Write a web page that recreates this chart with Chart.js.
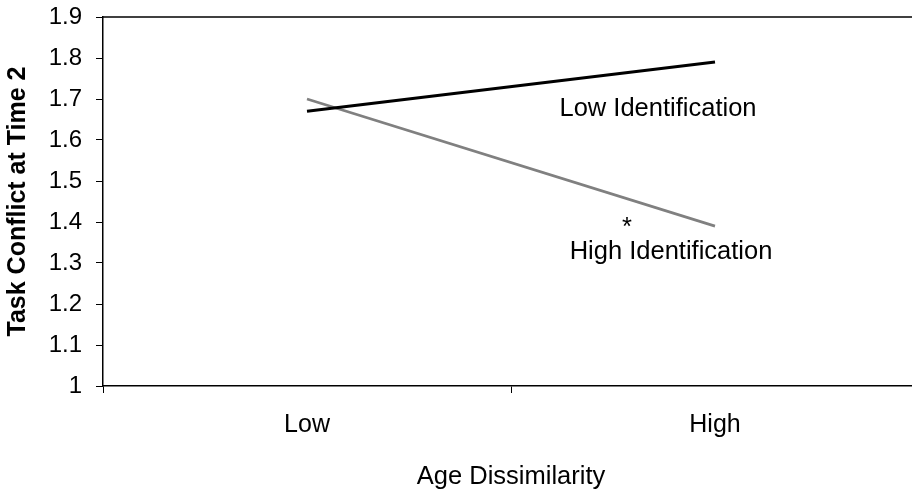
<!DOCTYPE html>
<html>
<head>
<meta charset="utf-8">
<script src="https://cdn.jsdelivr.net/npm/chart.js@4/dist/chart.umd.min.js"></script>
<style>
  html, body { margin: 0; padding: 0; background: #fff; overflow: hidden; }
  #wrap { position: relative; width: 930px; height: 496px; }
</style>
</head>
<body>
<div id="wrap"><canvas id="chart" width="930" height="496"></canvas></div>
<script>
// Age dissimilarity categories and the two identification slopes
const categories = ['Low', 'High'];
const lowIdentification = [1.67, 1.79];
const highIdentification = [1.70, 1.39];
const yMin = 1.0;
const yMax = 1.9;
const yStep = 0.1;

const FONT = '"Liberation Sans", Arial, Helvetica, sans-serif';

// Text labels placed next to the lines
const annotations = {
  id: 'lineNotes',
  afterDatasetsDraw(chart) {
    const { ctx, scales: { x, y } } = chart;
    const xHigh = x.getPixelForValue(1);
    ctx.save();
    ctx.fillStyle = '#000';
    ctx.font = '25.5px ' + FONT;
    ctx.textAlign = 'center';
    ctx.textBaseline = 'alphabetic';
    ctx.fillText('Low Identification', xHigh - 57, y.getPixelForValue(1.67) + 4.5);
    ctx.fillText('*', xHigh - 88, y.getPixelForValue(1.37) + 0.5);
    ctx.fillText('High Identification', xHigh - 44, y.getPixelForValue(1.31) + 0.5);
    ctx.restore();
  }
};

// Frame line along the top of the plot area
const topFrame = {
  id: 'topFrame',
  afterDraw(chart) {
    const { ctx, chartArea } = chart;
    ctx.save();
    ctx.strokeStyle = '#000';
    ctx.lineWidth = 1.5;
    ctx.beginPath();
    ctx.moveTo(chartArea.left, chartArea.top);
    ctx.lineTo(chartArea.right, chartArea.top);
    ctx.stroke();
    ctx.restore();
  }
};

new Chart(document.getElementById('chart'), {
  type: 'line',
  data: {
    labels: categories,
    datasets: [
      {
        label: 'Low Identification',
        data: lowIdentification,
        borderColor: '#000000',
        borderWidth: 3,
        pointRadius: 0,
        tension: 0,
        fill: false
      },
      {
        label: 'High Identification',
        data: highIdentification,
        borderColor: '#808080',
        borderWidth: 2.7,
        pointRadius: 0,
        tension: 0,
        fill: false
      }
    ]
  },
  options: {
    responsive: false,
    animation: false,
    events: [],
    layout: { padding: { top: 17, right: 11, left: 0, bottom: 0 } },
    plugins: {
      legend: { display: false },
      tooltip: { enabled: false }
    },
    scales: {
      x: {
        type: 'category',
        offset: true,
        afterFit(scale) {
          scale.height = 110;
          scale.paddingLeft = 0;
          scale.paddingRight = 0;
        },
        grid: {
          offset: true,
          drawOnChartArea: false,
          drawTicks: true,
          tickLength: 7,
          color: '#000',
          lineWidth: 1
        },
        border: { display: true, color: '#000', width: 1.5 },
        ticks: {
          color: '#000',
          font: { family: FONT, size: 25 },
          padding: 17,
          maxRotation: 0
        },
        title: {
          display: true,
          text: 'Age Dissimilarity',
          color: '#000',
          font: { family: FONT, size: 25.5 },
          padding: { top: 0, bottom: 4 }
        }
      },
      y: {
        min: yMin,
        max: yMax,
        afterFit(scale) {
          scale.width = 103;
          scale.paddingTop = 0;
          scale.paddingBottom = 0;
        },
        grid: {
          drawOnChartArea: false,
          drawTicks: true,
          tickLength: 7,
          color: '#000',
          lineWidth: 1
        },
        border: { display: true, color: '#000', width: 1.5 },
        ticks: {
          stepSize: yStep,
          color: '#000',
          font: { family: FONT, size: 24 },
          padding: 14,
          callback: (v) => String(Number(v.toFixed(1)))
        },
        title: {
          display: true,
          text: 'Task Conflict at Time 2',
          color: '#000',
          font: { family: FONT, size: 25, weight: 'bold' },
          padding: { top: 3, bottom: 0 }
        }
      }
    }
  },
  plugins: [annotations, topFrame]
});
</script>
</body>
</html>
